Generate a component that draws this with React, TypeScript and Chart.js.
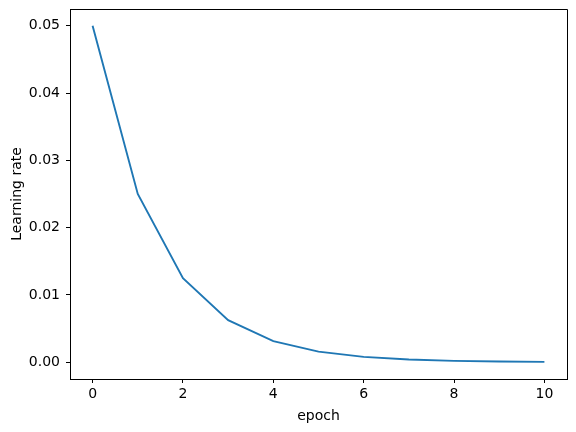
import React, { useEffect, useRef } from "react";
import { Chart, registerables } from "chart.js";

Chart.register(...registerables);

const epochs = [0, 1, 2, 3, 4, 5, 6, 7, 8, 9, 10];
const learningRates = [
  0.05, 0.025, 0.0125, 0.00625, 0.003125, 0.0015625, 0.00078125,
  0.000390625, 0.0001953125, 0.00009765625, 0.000048828125,
];
const xTicks = [0, 2, 4, 6, 8, 10];
const yTicks = [0, 0.01, 0.02, 0.03, 0.04, 0.05];

const FONT = "DejaVu Sans";

const frame = {
  id: "frame",
  afterDraw(chart: any) {
    const { ctx, chartArea } = chart;
    const l = Math.round(chartArea.left) + 0.5;
    const t = Math.round(chartArea.top) + 0.5;
    const r = Math.round(chartArea.right) + 0.5;
    const b = Math.round(chartArea.bottom) + 0.5;
    ctx.save();
    ctx.strokeStyle = "#000";
    ctx.lineWidth = 1;
    ctx.beginPath();
    ctx.moveTo(l, t);
    ctx.lineTo(r, t);
    ctx.lineTo(r, b);
    ctx.stroke();
    ctx.restore();
  },
};

export default function App() {
  const ref = useRef<HTMLCanvasElement>(null);
  useEffect(() => {
    if (!ref.current) return;
    const chart = new Chart(ref.current, {
      type: "line",
      data: {
        datasets: [
          {
            data: epochs.map((e, i) => ({ x: e, y: learningRates[i] })),
            borderColor: "#1f77b4",
            borderWidth: 1.9,
            pointRadius: 0,
            fill: false,
            tension: 0,
          },
        ],
      },
      options: {
        animation: false,
        responsive: false,
        devicePixelRatio: 1,
        layout: { padding: { top: 9, right: 9, left: 0, bottom: 0 } },
        plugins: { legend: { display: false }, tooltip: { enabled: false } },
        scales: {
          x: {
            type: "linear",
            min: -0.5,
            max: 10.5,
            afterBuildTicks: (s: any) => {
              s.ticks = xTicks.map((v) => ({ value: v }));
            },
            afterFit: (s: any) => {
              s.height = 53;
              s.paddingLeft = 0;
              s.paddingRight = 0;
            },
            grid: {
              drawOnChartArea: false,
              drawTicks: true,
              tickLength: 4,
              color: "#000",
            },
            border: { display: true, color: "#000" },
            ticks: {
              color: "#000",
              font: { family: FONT, size: 14 },
              padding: 3,
              maxRotation: 0,
              callback: (v: any) => String(v),
            },
            title: {
              display: true,
              text: "epoch",
              color: "#000",
              font: { family: FONT, size: 14 },
              padding: { top: 0, bottom: 7 },
            },
          },
          y: {
            type: "linear",
            min: -0.0025,
            max: 0.0525,
            afterBuildTicks: (s: any) => {
              s.ticks = yTicks.map((v) => ({ value: v }));
            },
            afterFit: (s: any) => {
              s.width = 70;
              s.paddingTop = 0;
              s.paddingBottom = 0;
            },
            grid: {
              drawOnChartArea: false,
              drawTicks: true,
              tickLength: 4,
              color: "#000",
            },
            border: { display: true, color: "#000" },
            ticks: {
              color: "#000",
              font: { family: FONT, size: 14 },
              padding: 6,
              callback: (v: any) => Number(v).toFixed(2),
            },
            title: {
              display: true,
              text: "Learning rate",
              color: "#000",
              font: { family: FONT, size: 14 },
              padding: { top: 9, bottom: 0 },
            },
          },
        },
      },
      plugins: [frame],
    });
    return () => chart.destroy();
  }, []);
  return (
    <div style={{ position: "fixed", left: 0, top: 0, width: 576, height: 432, background: "#fff" }}>
      <canvas ref={ref} width={576} height={432} />
    </div>
  );
}
